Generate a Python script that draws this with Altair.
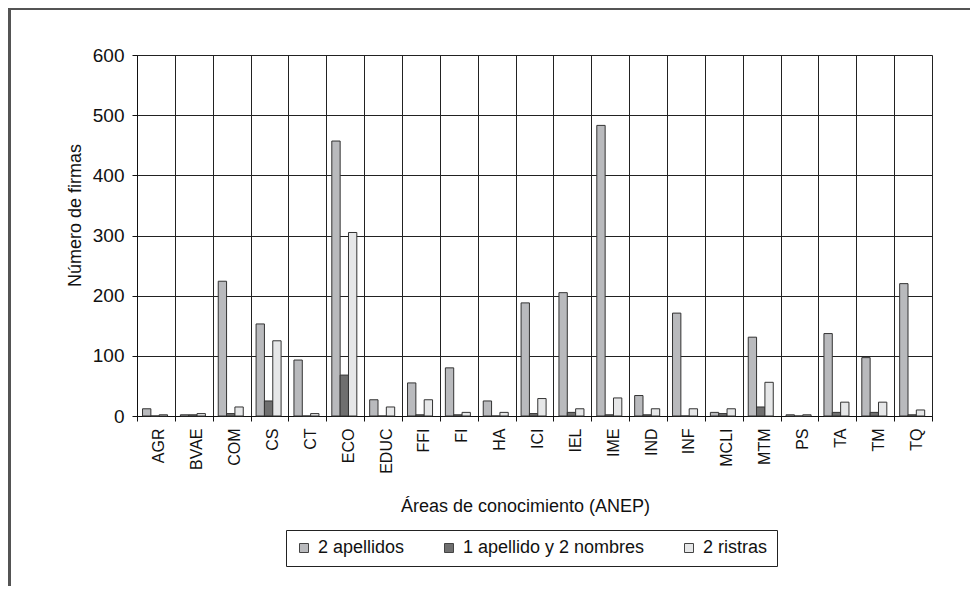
import altair as alt
import pandas as pd

categorias = ["AGR", "BVAE", "COM", "CS", "CT", "ECO", "EDUC", "FFI", "FI", "HA", "ICI",
              "IEL", "IME", "IND", "INF", "MCLI", "MTM", "PS", "TA", "TM", "TQ"]
series = ["2 apellidos", "1 apellido y 2 nombres", "2 ristras"]
dos_apellidos = [12, 2, 224, 153, 93, 457, 27, 55, 80, 25, 188, 205, 483, 34, 171, 6, 131, 2, 137, 97, 220]
un_apellido_dos_nombres = [0, 2, 4, 25, 0, 68, 0, 2, 2, 0, 4, 6, 2, 2, 0, 4, 15, 0, 6, 6, 2]
dos_ristras = [2, 4, 15, 125, 4, 305, 15, 27, 6, 6, 29, 12, 30, 12, 12, 12, 56, 2, 23, 23, 10]
colores = ["#b9babd", "#6f6f6f", "#e6e7e8"]
y_ticks = [0, 100, 200, 300, 400, 500, 600]

rows = []
for s, vals in zip(series, [dos_apellidos, un_apellido_dos_nombres, dos_ristras]):
    for c, v in zip(categorias, vals):
        rows.append({"area": c, "serie": s, "valor": v})
df = pd.DataFrame(rows)

FONT = "Liberation Sans, Arial, Helvetica, sans-serif"

bars = alt.Chart(df).mark_bar(stroke="#333333", strokeWidth=1).encode(
    x=alt.X("area:N", sort=categorias,
            scale=alt.Scale(paddingInner=0, paddingOuter=0),
            axis=alt.Axis(title="Áreas de conocimiento (ANEP)", tickBand="extent",
                          grid=True, gridColor="#222222", gridWidth=1,
                          domainColor="#111111", tickColor="#111111", tickSize=5,
                          labelAngle=270, labelAlign="right", labelBaseline="middle",
                          labelPadding=7, labelOffset=3, labelFontSize=16,
                          titleFontSize=18, titleFontWeight="normal",
                          titleX=388, titleY=90, titleAlign="center", titleBaseline="middle")),
    xOffset=alt.XOffset("serie:N", sort=series,
                        scale=alt.Scale(paddingOuter=0.77, paddingInner=0, align=0.43)),
    y=alt.Y("valor:Q", scale=alt.Scale(domain=[0, 600], nice=False),
            axis=alt.Axis(title="Número de firmas", values=y_ticks, grid=True,
                          gridColor="#222222", gridWidth=1, domainColor="#111111",
                          tickColor="#111111", tickSize=5, labelPadding=8, labelFontSize=19,
                          titleFontSize=18, titleFontWeight="normal", titleAngle=270,
                          titleX=-61.5, titleY=160, titleAlign="center", titleBaseline="middle")),
    color=alt.Color("serie:N", sort=series,
                    scale=alt.Scale(domain=series, range=colores),
                    legend=alt.Legend(title=None, orient="none", legendX=149, legendY=475,
                                      direction="horizontal", strokeColor="#222222",
                                      padding=9, columnPadding=35, symbolType="square",
                                      symbolSize=81, symbolStrokeColor="#444444",
                                      symbolStrokeWidth=1,
                                      labelFontSize=18, labelOffset=5, labelLimit=400,
                                      labelColor="#111111")),
)

frame_left = alt.Chart(df).mark_rule(color="#555555", strokeWidth=1.5).encode(
    x=alt.value(-127.5), y=alt.value(-46.5), y2=alt.value(531))
frame_top = alt.Chart(df).mark_rule(color="#555555", strokeWidth=1.5).encode(
    x=alt.value(-127.5), x2=alt.value(833), y=alt.value(-46.5))

chart = alt.layer(bars, frame_left, frame_top).properties(
    width=795, height=361,
    autosize=alt.AutoSizeParams(type="none"),
    padding={"left": 129, "top": 47, "right": 38, "bottom": 170},
).configure_view(stroke="#111111", strokeWidth=1).configure(
    font=FONT,
).configure_axis(labelFont=FONT, titleFont=FONT, labelColor="#111111", titleColor="#111111"
).configure_legend(labelFont=FONT)

chart.save("out.html", embed_options={"renderer": "svg", "actions": False})
